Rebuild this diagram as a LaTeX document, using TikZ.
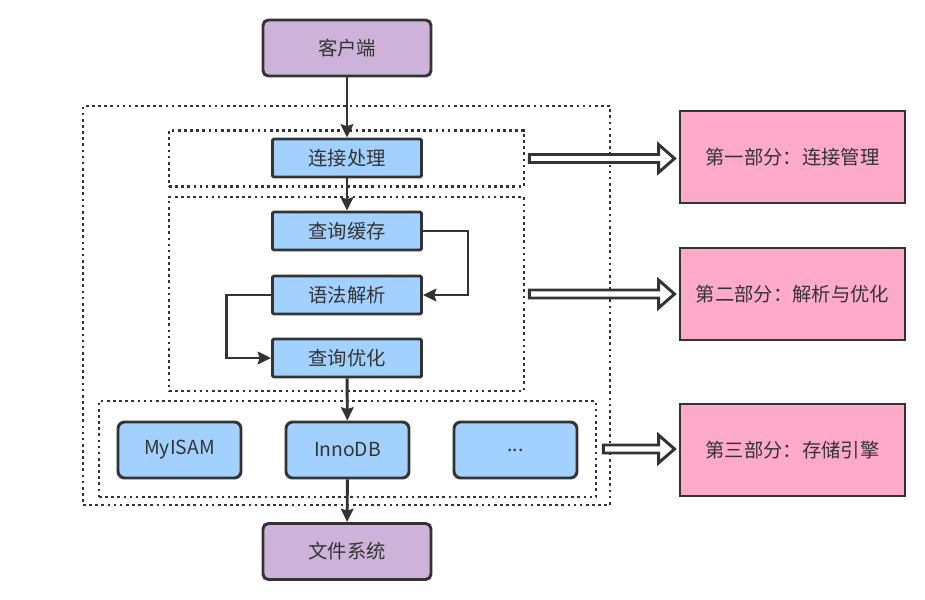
\documentclass[tikz,border=0pt]{standalone}
\usepackage{fontspec}
\setmainfont{Noto Sans CJK SC}
\usetikzlibrary{arrows.meta,calc}
\definecolor{ink}{HTML}{333333}
\definecolor{lilac}{HTML}{CDB3D9}
\definecolor{skyb}{HTML}{A2D1FF}
\definecolor{rose}{HTML}{FFAAC9}
\tikzset{
  x=0.75pt, y=-0.75pt,
  every node/.style={font=\fontsize{14.5pt}{17pt}\selectfont, text=ink, inner sep=0pt},
  boxbase/.style={draw=ink, line width=2.2pt, align=center},
  endbox/.style={boxbase, fill=lilac, rounded corners=4pt, minimum width=168*0.75pt, minimum height=56*0.75pt},
  stepbox/.style={boxbase, fill=skyb, rounded corners=1pt, minimum width=149*0.75pt, minimum height=38*0.75pt},
  engbox/.style={boxbase, fill=skyb, rounded corners=5pt, minimum width=123*0.75pt, minimum height=56*0.75pt},
  partbox/.style={boxbase, fill=rose, minimum width=225*0.75pt, minimum height=92*0.75pt},
  dotbox/.style={draw=ink, line width=2pt, dash pattern=on 2pt off 2.6pt},
  flow/.style={draw=ink, line width=2.2pt, -{Stealth[length=10pt,width=9.5pt,inset=1.5pt]}},
  hollow/.style={draw=ink, fill=white, line width=2.2pt, line join=miter},
}
\begin{document}
\begin{tikzpicture}
\useasboundingbox (0,0) rectangle (925,600);

% dotted groups
\node[dotbox, minimum width=527*0.75pt, minimum height=399*0.75pt] (outer) at (346.5,305.5) {};
\node[dotbox, minimum width=355*0.75pt, minimum height=56*0.75pt] (g1) at (346.5,158.5) {};
\node[dotbox, minimum width=355*0.75pt, minimum height=194*0.75pt] (g2) at (346.5,294) {};
\node[dotbox, minimum width=497*0.75pt, minimum height=96*0.75pt] (g3) at (347.5,449) {};

% main boxes
\node[endbox] (client) at (347,48) {客户端};
\node[stepbox] (conn) at (347,158) {连接处理};
\node[stepbox] (cache) at (347,231) {查询缓存};
\node[stepbox] (parse) at (347,295) {语法解析};
\node[stepbox] (opt) at (347,358) {查询优化};
\node[engbox] (myisam) at (179.5,450) {MyISAM};
\node[engbox] (innodb) at (347.5,450) {InnoDB};
\node[engbox] (more) at (515.5,450) {...};
\node[endbox] (fs) at (347,551.5) {文件系统};

% parts
\node[partbox] (p1) at (792.5,157) {第一部分：连接管理};
\node[partbox] (p2) at (792.5,294) {第二部分：解析与优化};
\node[partbox] (p3) at (792.5,450) {第三部分：存储引擎};

% connectors
\draw[flow] (client) -- (conn);
\draw[flow] (conn) -- (cache);
\draw[flow] (cache.east) -- ++(45,0) |- (parse.east);
\draw[flow] (parse.west) -- ++(-45,0) |- (opt.west);
\draw[flow] (opt) -- (innodb);
\draw[flow] (innodb) -- (fs);

% hollow arrows
\draw[hollow] let \p1=($(g1.east)+(4,0)$), \p2=($(p1.west)+(-4,0)$) in
  (\x1,\y1-3pt) -- (\x2-12pt,\y1-3pt) -- (\x2-12pt,\y1-10.5pt) -- (\x2,\y1)
  -- (\x2-12pt,\y1+10.5pt) -- (\x2-12pt,\y1+3pt) -- (\x1,\y1+3pt) -- cycle;
\draw[hollow] let \p1=($(g2.east)+(4,0)$), \p2=($(p2.west)+(-4,0)$) in
  (\x1,\y1-3pt) -- (\x2-12pt,\y1-3pt) -- (\x2-12pt,\y1-10.5pt) -- (\x2,\y1)
  -- (\x2-12pt,\y1+10.5pt) -- (\x2-12pt,\y1+3pt) -- (\x1,\y1+3pt) -- cycle;
\draw[hollow] let \p1=($(g3.east)+(6,0)$), \p2=($(p3.west)+(-4,0)$) in
  (\x1,\y1-3pt) -- (\x2-12pt,\y1-3pt) -- (\x2-12pt,\y1-10.5pt) -- (\x2,\y1)
  -- (\x2-12pt,\y1+10.5pt) -- (\x2-12pt,\y1+3pt) -- (\x1,\y1+3pt) -- cycle;
\end{tikzpicture}
\end{document}
